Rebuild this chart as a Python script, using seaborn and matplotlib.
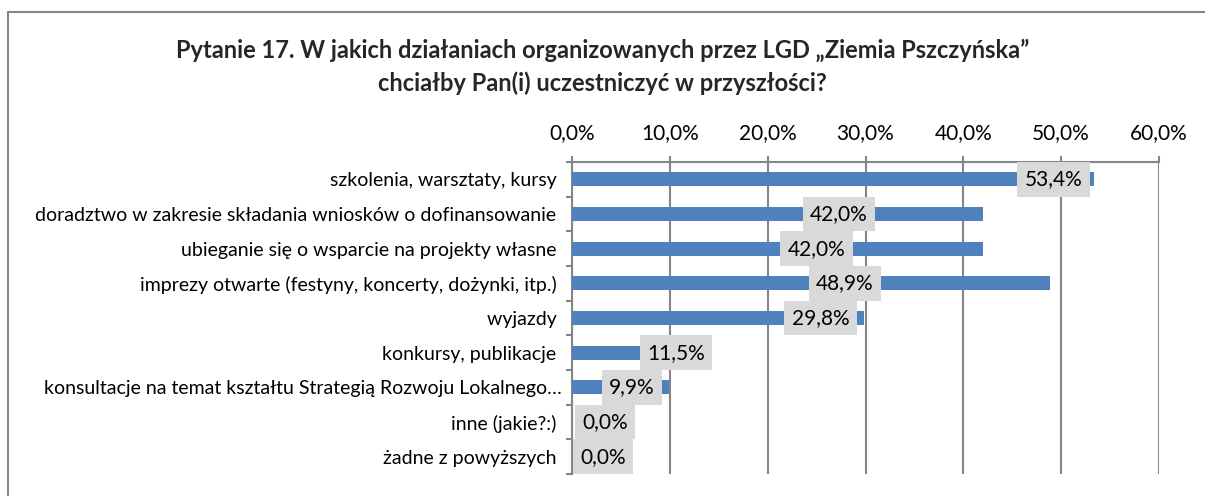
import matplotlib
matplotlib.use("Agg")
import matplotlib.pyplot as plt
import seaborn as sns
import pandas as pd
from matplotlib.ticker import FuncFormatter, FixedLocator

# dane z wykresu
kategorie = [
    "szkolenia, warsztaty, kursy ",
    "doradztwo w zakresie składania wniosków o dofinansowanie ",
    "ubieganie się o wsparcie na projekty własne ",
    "imprezy otwarte (festyny, koncerty, dożynki, itp.) ",
    "wyjazdy ",
    "konkursy, publikacje ",
    "konsultacje na temat kształtu Strategią Rozwoju Lokalnego…",
    "inne (jakie?:) ",
    "żadne z powyższych ",
]
procenty = [53.4, 42.0, 42.0, 48.9, 29.8, 11.5, 9.9, 0.0, 0.0]
tytul = "Pytanie 17. W jakich działaniach organizowanych przez LGD \u201eZiemia Pszczyńska\u201d\nchciałby Pan(i) uczestniczyć w przyszłości?"

# polozenie etykiet (srodek szarego pola, w % osi)
etykiety_x = [49.2, 27.3, 25.0, 27.9, 25.4, 10.6, 6.1, 3.4, 3.2]

sns.set_style("white")
plt.rcParams["font.family"] = ["Lato", "DejaVu Sans"]

df = pd.DataFrame({"kategoria": kategorie, "procent": procenty})

fig = plt.figure(figsize=(12.05, 4.96), dpi=100)
ax = fig.add_axes([572 / 1205, 1 - 474 / 496, (1159 - 572) / 1205, (474 - 162) / 496])

sns.barplot(data=df, x="procent", y="kategoria", orient="h", color="#4f81bd",
            saturation=1, width=0.4, ax=ax, zorder=3, linewidth=0)

ax.set_xlim(0, 60)
ax.set_ylim(len(kategorie) - 0.5, -0.5)
ax.xaxis.tick_top()
ax.set_xticks(range(0, 61, 10))
ax.xaxis.set_major_formatter(FuncFormatter(lambda v, _: f"{v:.1f}%".replace(".", ",")))
ax.set_xlabel("")
ax.set_ylabel("")
ax.grid(axis="x", color="#868686", linewidth=1.5, zorder=0)

for s in ["right", "bottom"]:
    ax.spines[s].set_visible(False)
for s in ["top", "left"]:
    ax.spines[s].set_color("#868686")
    ax.spines[s].set_linewidth(1.5)

ax.tick_params(axis="x", which="major", top=True, length=4.5, width=1.5, color="#868686",
               labelsize=15, pad=9, labelcolor="black")
ax.tick_params(axis="y", which="major", left=False, labelsize=14, pad=4, labelcolor="black")
ax.yaxis.set_minor_locator(FixedLocator([i + 0.5 for i in range(-1, len(kategorie))]))
ax.tick_params(axis="y", which="minor", left=True, length=4.5, width=1.5, color="#868686")

for i, (v, lx) in enumerate(zip(procenty, etykiety_x)):
    ax.text(lx, i, f"{v:.1f}%".replace(".", ","), ha="center", va="center",
            fontsize=15, color="black", zorder=5,
            bbox=dict(boxstyle="square,pad=0.35", fc="#d9d9d9", ec="none"))

fig.text(0.5, 1 - 67 / 496, tytul, ha="center", va="center", fontsize=17,
         fontweight="bold", linespacing=1.5)

# ramka wykresu
fig.add_artist(plt.Line2D([8 / 1205, 1], [1 - 12 / 496, 1 - 12 / 496],
                          transform=fig.transFigure, color="#868686", linewidth=1.5))
fig.add_artist(plt.Line2D([8 / 1205, 8 / 1205], [0, 1 - 12 / 496],
                          transform=fig.transFigure, color="#868686", linewidth=1.5))

fig.savefig("out.png", dpi=100)
